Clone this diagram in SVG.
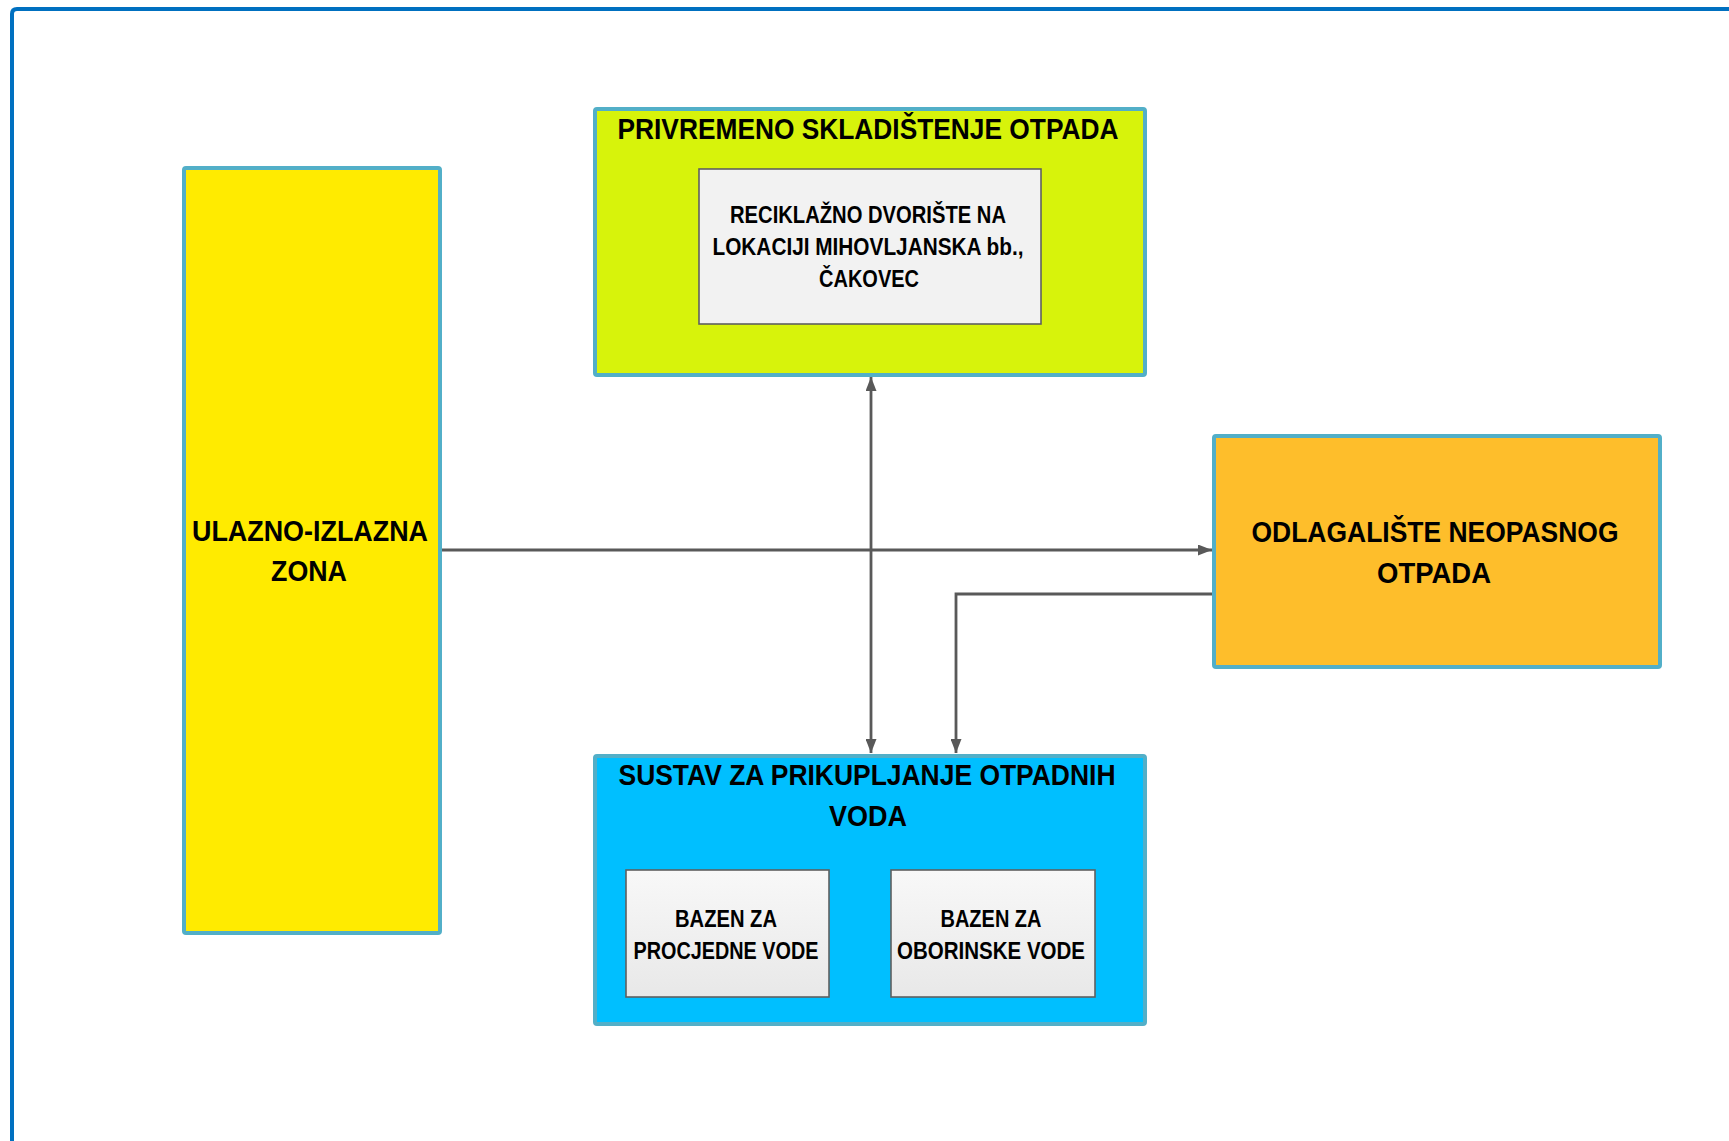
<svg xmlns="http://www.w3.org/2000/svg" width="1729" height="1141" viewBox="0 0 1729 1141">
<defs>
<style>
.box{stroke:#52AFC8;stroke-width:4}
.inner{stroke:#5F5F5F;stroke-width:1.6}
.t{font-family:"Liberation Sans",Arial,sans-serif;font-weight:bold;fill:#000;text-anchor:middle}
.big{font-size:29px}
.small{font-size:23px}
.conn{fill:none;stroke:#595959;stroke-width:2.8}
</style>
<linearGradient id="g1" x1="0" y1="0" x2="0" y2="1">
<stop offset="0" stop-color="#F8F8F8"/>
<stop offset="1" stop-color="#E8E8E8"/>
</linearGradient>
<marker id="ah" viewBox="0 0 14 11" refX="14" refY="5.5" markerWidth="14" markerHeight="11" markerUnits="userSpaceOnUse" orient="auto-start-reverse">
<path d="M0,0 L14,5.5 L0,11 Z" fill="#595959"/>
</marker>
</defs>
<rect x="0" y="0" width="1729" height="1141" fill="#FFFFFF"/>
<path d="M12,1145 L12,14 Q12,9 17,9 L1735,9" fill="none" stroke="#0070C0" stroke-width="4"/>

<g id="connectors">
<path class="conn" d="M441,550 L1212,550" marker-end="url(#ah)"/>
<path class="conn" d="M871,377 L871,753" marker-start="url(#ah)" marker-end="url(#ah)"/>
<path class="conn" d="M1213,594 L956,594 L956,753" marker-end="url(#ah)"/>
</g>

<g id="ulazno">
<rect class="box" x="184" y="168" width="256" height="765" rx="2" fill="#FFEB00"/>
<text class="t big" x="310" y="541" textLength="236" lengthAdjust="spacingAndGlyphs">ULAZNO-IZLAZNA</text>
<text class="t big" x="309" y="581" textLength="76" lengthAdjust="spacingAndGlyphs">ZONA</text>
</g>

<g id="privremeno">
<rect class="box" x="595" y="109" width="550" height="266" rx="2" fill="#D7F30B"/>
<text class="t big" x="868" y="139" textLength="501" lengthAdjust="spacingAndGlyphs">PRIVREMENO SKLADIŠTENJE OTPADA</text>
</g>

<g id="reciklazno">
<rect class="inner" x="699" y="169" width="342" height="155" fill="#F2F2F2"/>
<text class="t small" x="868" y="223" textLength="276" lengthAdjust="spacingAndGlyphs">RECIKLAŽNO DVORIŠTE NA</text>
<text class="t small" x="868" y="255" textLength="311" lengthAdjust="spacingAndGlyphs">LOKACIJI MIHOVLJANSKA bb.,</text>
<text class="t small" x="869" y="287" textLength="100" lengthAdjust="spacingAndGlyphs">ČAKOVEC</text>
</g>

<g id="odlagaliste">
<rect class="box" x="1214" y="436" width="446" height="231" rx="2" fill="#FEBE2B"/>
<text class="t big" x="1435" y="542" textLength="367" lengthAdjust="spacingAndGlyphs">ODLAGALIŠTE NEOPASNOG</text>
<text class="t big" x="1434" y="583" textLength="114" lengthAdjust="spacingAndGlyphs">OTPADA</text>
</g>

<g id="sustav">
<rect class="box" x="595" y="756" width="550" height="268" rx="2" fill="#00BFFF"/>
<text class="t big" x="867" y="785" textLength="497" lengthAdjust="spacingAndGlyphs">SUSTAV ZA PRIKUPLJANJE OTPADNIH</text>
<text class="t big" x="868" y="826" textLength="78" lengthAdjust="spacingAndGlyphs">VODA</text>
</g>

<g id="bazen-procjedne">
<rect class="inner" x="626" y="870" width="203" height="127" fill="url(#g1)"/>
<text class="t small" x="726" y="927" textLength="102" lengthAdjust="spacingAndGlyphs">BAZEN ZA</text>
<text class="t small" x="726" y="959" textLength="185" lengthAdjust="spacingAndGlyphs">PROCJEDNE VODE</text>
</g>

<g id="bazen-oborinske">
<rect class="inner" x="891" y="870" width="204" height="127" fill="url(#g1)"/>
<text class="t small" x="991" y="927" textLength="101" lengthAdjust="spacingAndGlyphs">BAZEN ZA</text>
<text class="t small" x="991" y="959" textLength="188" lengthAdjust="spacingAndGlyphs">OBORINSKE VODE</text>
</g>
</svg>
